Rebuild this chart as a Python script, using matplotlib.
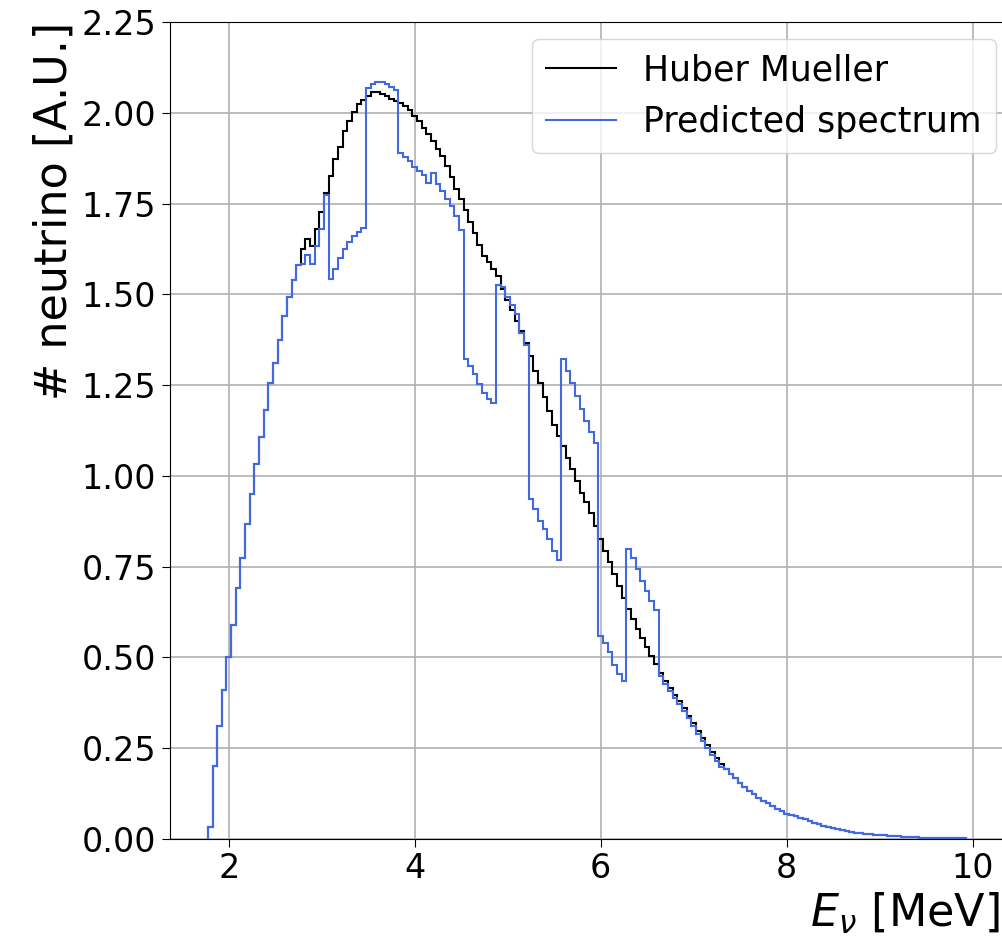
import numpy as np
import matplotlib
matplotlib.use("Agg")
import matplotlib.pyplot as plt

# bin edges of the energy histogram [MeV], 0.05 MeV wide, centres 1.80 ... 9.90
e_first, e_last, n_bins = 1.775, 9.925, 163

huber_mueller = [
    0.032, 0.20, 0.31, 0.41, 0.50, 0.59, 0.69, 0.775, 0.867, 0.951,      # 1.80-2.25
    1.034, 1.107, 1.182, 1.255, 1.31, 1.373, 1.44, 1.494, 1.54, 1.58,    # 2.30-2.75
    1.624, 1.653, 1.633, 1.68, 1.726, 1.78, 1.825, 1.872, 1.907, 1.95,   # 2.80-3.25
    1.978, 2.001, 2.024, 2.036, 2.047, 2.056, 2.058, 2.051, 2.047, 2.037,  # 3.30-3.75
    2.033, 2.028, 2.019, 2.008, 1.992, 1.978, 1.959, 1.941, 1.923, 1.900,  # 3.80-4.25
    1.880, 1.854, 1.822, 1.79, 1.762, 1.732, 1.70, 1.668, 1.635, 1.607,  # 4.30-4.75
    1.588, 1.570, 1.550, 1.515, 1.485, 1.457, 1.428, 1.398, 1.365, 1.33,  # 4.80-5.25
    1.29, 1.255, 1.218, 1.18, 1.14, 1.11, 1.082, 1.05, 1.018, 0.986,     # 5.30-5.75
    0.954, 0.927, 0.898, 0.863, 0.826, 0.794, 0.762, 0.73, 0.697, 0.663,  # 5.80-6.25
    0.633, 0.606, 0.578, 0.555, 0.528, 0.505, 0.482, 0.458, 0.436, 0.415,  # 6.30-6.75
    0.397, 0.38, 0.36, 0.34, 0.32, 0.298, 0.277, 0.258, 0.24, 0.222,     # 6.80-7.25
    0.206, 0.193, 0.18, 0.168, 0.155, 0.143, 0.133, 0.123, 0.114, 0.106,  # 7.30-7.75
    0.098, 0.09, 0.082, 0.076, 0.07, 0.067, 0.063, 0.058, 0.054, 0.049,  # 7.80-8.25
    0.045, 0.041, 0.037, 0.033, 0.03, 0.027, 0.024, 0.022, 0.02, 0.018,  # 8.30-8.75
    0.016, 0.014, 0.013, 0.012, 0.011, 0.010, 0.009, 0.008, 0.007, 0.006,  # 8.80-9.25
    0.006, 0.005, 0.005, 0.004, 0.004, 0.004, 0.003, 0.003, 0.003, 0.003,  # 9.30-9.75
    0.003, 0.002, 0.002,                                                  # 9.80-9.90
]

predicted = [
    0.032, 0.20, 0.31, 0.41, 0.50, 0.59, 0.69, 0.775, 0.867, 0.951,      # 1.80-2.25
    1.034, 1.107, 1.182, 1.255, 1.31, 1.373, 1.44, 1.494, 1.54, 1.58,    # 2.30-2.75
    1.583, 1.608, 1.585, 1.633, 1.68, 1.773, 1.542, 1.571, 1.601, 1.624,  # 2.80-3.25
    1.645, 1.66, 1.672, 1.682, 2.068, 2.078, 2.085, 2.085, 2.078, 2.07,  # 3.30-3.75
    2.062, 1.889, 1.879, 1.868, 1.852, 1.84, 1.828, 1.808, 1.834, 1.803,  # 3.80-4.25
    1.785, 1.762, 1.744, 1.716, 1.678, 1.323, 1.303, 1.28, 1.253, 1.228,  # 4.30-4.75
    1.211, 1.200, 1.525, 1.52, 1.493, 1.47, 1.445, 1.395, 1.36, 0.936,   # 4.80-5.25
    0.909, 0.876, 0.853, 0.826, 0.794, 0.768, 1.323, 1.29, 1.255, 1.22,  # 5.30-5.75
    1.185, 1.15, 1.12, 1.09, 0.56, 0.54, 0.515, 0.48, 0.455, 0.435,      # 5.80-6.25
    0.80, 0.775, 0.745, 0.712, 0.683, 0.655, 0.63, 0.45, 0.428, 0.407,   # 6.30-6.75
    0.389, 0.372, 0.352, 0.332, 0.312, 0.29, 0.269, 0.25, 0.232, 0.214,  # 6.80-7.25
    0.198, 0.193, 0.18, 0.168, 0.155, 0.143, 0.133, 0.123, 0.114, 0.106,  # 7.30-7.75
    0.098, 0.09, 0.082, 0.076, 0.07, 0.067, 0.063, 0.058, 0.054, 0.049,  # 7.80-8.25
    0.045, 0.041, 0.037, 0.033, 0.03, 0.027, 0.024, 0.022, 0.02, 0.018,  # 8.30-8.75
    0.016, 0.014, 0.013, 0.012, 0.011, 0.010, 0.009, 0.008, 0.007, 0.006,  # 8.80-9.25
    0.006, 0.005, 0.005, 0.004, 0.004, 0.004, 0.003, 0.003, 0.003, 0.003,  # 9.30-9.75
    0.003, 0.002, 0.002,                                                  # 9.80-9.90
]

edges = np.linspace(e_first, e_last, n_bins + 1)

fig = plt.figure(figsize=(10.03, 9.38), dpi=100)
# the original figure is cut on the right, so the axes run a bit past the edge
ax = fig.add_axes([0.169, 0.1055, 0.8412, 0.871])

ax.stairs(huber_mueller, edges, color="black", lw=1.5, label="Huber Mueller")
ax.stairs(predicted, edges, color="royalblue", lw=1.5, label="Predicted spectrum")

ax.set_xlim(1.3625, 10.4375)
ax.set_ylim(0, 2.25)
ax.set_yticks(np.arange(0, 2.26, 0.25))
ax.grid(True, color="#b0b0b0", lw=1.2)
ax.set_axisbelow(True)
ax.tick_params(labelsize=24, length=6)

ax.set_xlabel(r"$E_{\nu}$ [MeV]", fontsize=32, loc="right")
ax.xaxis.label.set_x(0.984)  # keep the label inside the picture
ax.set_ylabel("# neutrino [A.U.]", fontsize=32, loc="top")
ax.legend(fontsize=25, loc="upper right")

fig.savefig("out.png", dpi=100)
